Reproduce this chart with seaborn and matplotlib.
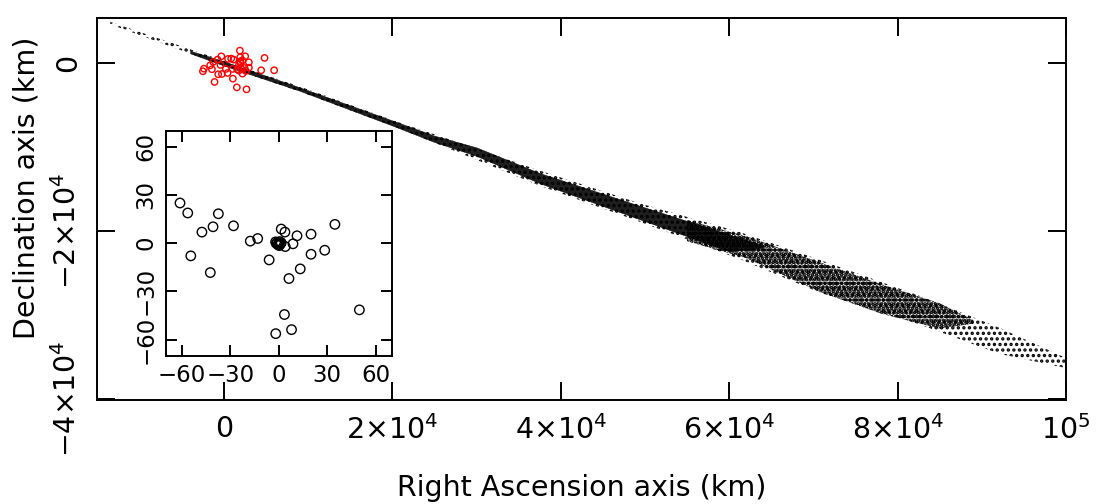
import matplotlib
matplotlib.use("Agg")
import matplotlib.pyplot as plt
import seaborn as sns

# ---- data ----
# outer edges of the black band of dots (km)
band_x = [-13500, 0, 9000, 20300, 28000, 37500, 49400, 61200, 70700, 82600, 92100, 100000]
band_top = [4900, 250, -2800, -6900, -9500, -12800, -16700, -20100, -23400, -27700, -31500, -35100]
band_bot = [4600, -350, -3400, -7600, -10700, -14600, -18900, -23300, -27300, -31100, -34600, -36300]

# dark core of the band (almost solid)
core_x = [-4000, 0, 9000, 20300, 25000, 30000, 37500, 49400, 60000, 64000]
core_top = [1450, 200, -2900, -6950, -8650, -10050, -13100, -17000, -20400, -21700]
core_bot = [1150, -300, -3300, -7550, -9400, -11050, -14300, -18600, -22400, -22000]

# medium-density part of the band
mid_x = [55000, 62000, 70700, 78000, 85000, 89000]
mid_top = [-18700, -20600, -23700, -26300, -28600, -30600]
mid_bot = [-21200, -23200, -27200, -29800, -31600, -31000]

# red circles near the origin (km)
red_x = [1900, -300, 500, 870, 1150, 1940, 1940, 2530, 2970, 4830, -750, -1270,
         -1620, -2370, -2490, -1420, -400, 240, 440, -670, -240, 1030, 1580, 1780,
         2060, 2450, 2970, 2210, 2610, 4430, 5970, -1110, 1070, 1540, 2690, 1980,
         1800, 2200]
red_y = [1470, 790, 480, 520, 400, 680, 200, 790, 80, 600, 400, 120,
         -280, -680, -990, -750, -240, -710, -1190, -1350, -1310, -710, -750, -910,
         -680, -600, -560, -1270, -950, -870, -870, -2260, -1870, -2900, -3140, 0,
         -200, 300]

# inset: circles (km)
ins_x = [-61.3, -56.5, -37.5, -40.8, -47.7, -28.1, -54.6, -42.5, -17.7, -13.1,
         -6.0, 1.5, 3.8, 11.3, 8.8, 4.0, 20.0, 20.0, 28.5, 34.8, 13.3, 6.3, 3.5,
         -1.9, 7.9, 50.0,
         0.0, -1.0, 1.0, 0.5, -0.5, 1.5, -1.5, 0.3, -2.0]
ins_y = [25.0, 18.8, 18.3, 10.2, 6.9, 10.8, -7.9, -18.3, 1.3, 2.9,
         -10.4, 8.8, 6.9, 4.6, -0.4, -2.1, 5.6, -6.9, -4.4, 11.7, -16.0, -22.0, -44.4,
         -56.3, -53.8, -41.5,
         0.0, 0.5, -0.5, 1.0, -1.0, 0.3, -0.2, -1.5, 0.8]

xtick_vals = [0, 20000, 40000, 60000, 80000, 100000]
xtick_labels = ["0", r"$\mathregular{2{\times}10^4}$", r"$\mathregular{4{\times}10^4}$",
                r"$\mathregular{6{\times}10^4}$", r"$\mathregular{8{\times}10^4}$",
                r"$\mathregular{10^5}$"]
ytick_vals = [0, -20000, -40000]
ytick_labels = ["0", r"$\mathregular{-2{\times}10^4}$", r"$\mathregular{-4{\times}10^4}$"]
ins_ticks = [-60, -30, 0, 30, 60]
ins_labels = ["\u221260", "\u221230", "0", "30", "60"]

# ---- style ----
sns.set_style("ticks")
plt.rcParams["font.family"] = ["DejaVu Sans"]
plt.rcParams["mathtext.fontset"] = "dejavusans"
plt.rcParams["hatch.color"] = "black"
plt.rcParams["hatch.linewidth"] = 1.6
plt.rcParams["axes.linewidth"] = 1.4
for key in ["text.color", "axes.labelcolor", "axes.edgecolor", "xtick.color", "ytick.color"]:
    plt.rcParams[key] = "black"

fig = plt.figure(figsize=(10.97, 5.04), dpi=100)
ax = fig.add_axes([0.0884, 0.2063, 0.8833, 0.7580])

# band of dots: sparse stipple, denser stipple, dark core
ax.fill_between(band_x, band_bot, band_top, facecolor="none", edgecolor="black",
                linewidth=0, hatch="...")
ax.fill_between(mid_x, mid_bot, mid_top, facecolor="none", edgecolor="black",
                linewidth=0, hatch="....")
ax.fill_between(mid_x, mid_bot, mid_top, facecolor="none", edgecolor="black",
                linewidth=0, hatch=".....")
ax.fill_between(core_x, core_bot, core_top, facecolor="black", alpha=0.88,
                linewidth=0.4, edgecolor="black")

sns.scatterplot(x=red_x, y=red_y, ax=ax, marker="o", s=21, facecolor="none",
                edgecolor="red", linewidth=1.0, zorder=3)

ax.set_xlim(-15070, 100000)
ax.set_ylim(-40100, 5350)
ax.set_xticks(xtick_vals)
ax.set_xticklabels(xtick_labels)
ax.set_yticks(ytick_vals)
ax.set_yticklabels(ytick_labels, rotation=90, va="center")
ax.tick_params(direction="in", length=13, width=1.4, top=True, right=True,
               labelsize=20.5, pad=11)
ax.set_xlabel("Right Ascension axis (km)", fontsize=20.5, labelpad=21)
ax.set_ylabel("Declination axis (km)", fontsize=20.5)
ax.yaxis.set_label_coords(-0.058, 0.555)
for s in ax.spines.values():
    s.set_visible(True)

# inset
ins = fig.add_axes([0.1513, 0.2943, 0.2057, 0.4464])
sns.scatterplot(x=ins_x, y=ins_y, ax=ins, marker="o", s=46, facecolor="none",
                edgecolor="black", linewidth=1.0)
ins.set_xlim(-70, 70)
ins.set_ylim(-70, 70)
ins.set_xticks(ins_ticks)
ins.set_xticklabels(ins_labels)
ins.set_yticks(ins_ticks)
ins.set_yticklabels(ins_labels, rotation=90, va="center")
ins.tick_params(direction="in", length=8, width=1.4, top=True, right=True,
                labelsize=16.5, pad=6)
for s in ins.spines.values():
    s.set_visible(True)

fig.savefig("out.png", dpi=100)
